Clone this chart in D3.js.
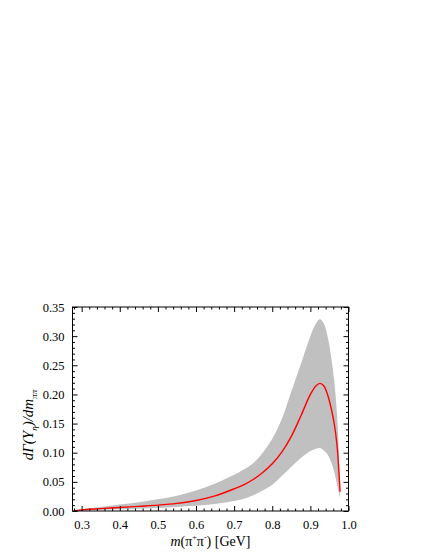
<!DOCTYPE html>
<html><head><meta charset="utf-8">
<script src="https://cdn.jsdelivr.net/npm/d3@7"></script>
<style>body{margin:0;background:#fff}svg{display:block}text{font-family:"Liberation Serif","Times New Roman",serif}</style>
</head><body><svg id="c" width="432" height="559"></svg>
<script>
const mass =    [0.279,0.30,0.35,0.40,0.45,0.50,0.55,0.60,0.65,0.70,0.725,0.75,0.775,0.80,0.825,0.85,0.875,0.90,0.915,0.925,0.935,0.945,0.955,0.963,0.970,0.975,0.978];
const central = [0,0.002,0.004,0.006,0.008,0.010,0.013,0.018,0.026,0.038,0.045,0.054,0.066,0.081,0.101,0.128,0.163,0.200,0.215,0.219,0.215,0.200,0.175,0.148,0.112,0.065,0.033];
const upper =   [0,0.003,0.007,0.011,0.015,0.020,0.026,0.035,0.047,0.062,0.071,0.082,0.100,0.124,0.158,0.205,0.252,0.300,0.322,0.329,0.322,0.300,0.262,0.220,0.165,0.095,0.022];
const lower =   [0,0.001,0.002,0.003,0.004,0.005,0.007,0.009,0.012,0.017,0.021,0.027,0.035,0.045,0.060,0.076,0.091,0.103,0.107,0.108,0.104,0.097,0.083,0.066,0.045,0.030,0.022];
const xTicks = [0.3,0.4,0.5,0.6,0.7,0.8,0.9,1.0];
const yTicks = [0,0.05,0.10,0.15,0.20,0.25,0.30,0.35];

const svg = d3.select("#c");
const L=72.5,R=348.5,T=307,B=511;
const x = d3.scaleLinear().domain([0.276,1.0]).range([L,R]);
const y = d3.scaleLinear().domain([0,0.35]).range([B,T]);
const data = mass.map((m,i)=>({m,c:central[i],u:upper[i],l:lower[i]}));
const curve = d3.curveCatmullRom.alpha(0.5);

svg.append("path").datum(data)
  .attr("d", d3.area().x(d=>x(d.m)).y0(d=>y(d.l)).y1(d=>y(d.u)).curve(curve))
  .attr("fill","#c0c0c0");
svg.append("path").datum(data)
  .attr("d", d3.line().x(d=>x(d.m)).y(d=>y(d.c)).curve(curve))
  .attr("fill","none").attr("stroke","#ff0000").attr("stroke-width",1.4);

svg.append("rect").attr("x",L).attr("y",T).attr("width",R-L).attr("height",B-T)
  .attr("fill","none").attr("stroke","#000").attr("stroke-width",1);

const xMinor = d3.range(0.28,1.0001,0.02).filter(v=>!xTicks.some(t=>Math.abs(t-v)<1e-6));
const yMinor = d3.range(0.01,0.35,0.01).filter(v=>!yTicks.some(t=>Math.abs(t-v)<1e-6));

const axBottom = d3.axisBottom(x).tickValues(xTicks).tickFormat(d3.format(".1f")).tickSizeInner(-5).tickSizeOuter(0).tickPadding(9);
const axBottomMinor = d3.axisBottom(x).tickValues(xMinor).tickFormat("").tickSizeInner(-2.5).tickSizeOuter(0);
const axTop = d3.axisTop(x).tickValues(xTicks).tickFormat("").tickSizeInner(-5).tickSizeOuter(0);
const axTopMinor = d3.axisTop(x).tickValues(xMinor).tickFormat("").tickSizeInner(-2.5).tickSizeOuter(0);
const axLeft = d3.axisLeft(y).tickValues(yTicks).tickFormat(d3.format(".2f")).tickSizeInner(-5).tickSizeOuter(0).tickPadding(8);
const axLeftMinor = d3.axisLeft(y).tickValues(yMinor).tickFormat("").tickSizeInner(-2.5).tickSizeOuter(0);
const axRight = d3.axisRight(y).tickValues(yTicks).tickFormat("").tickSizeInner(-5).tickSizeOuter(0);
const axRightMinor = d3.axisRight(y).tickValues(yMinor).tickFormat("").tickSizeInner(-2.5).tickSizeOuter(0);

function add(ax, tr){
  const g = svg.append("g").attr("transform",tr).call(ax);
  g.select(".domain").remove();
  g.selectAll("text").attr("font-size",12.5).attr("fill","#000").attr("font-family",'"Liberation Serif",serif');
  g.selectAll("line").attr("stroke","#000");
  return g;
}
add(axBottom,`translate(0,${B})`);
add(axBottomMinor,`translate(0,${B})`);
add(axTop,`translate(0,${T})`);
add(axTopMinor,`translate(0,${T})`);
add(axLeft,`translate(${L},0)`);
add(axLeftMinor,`translate(${L},0)`);
add(axRight,`translate(${R},0)`);
add(axRightMinor,`translate(${R},0)`);

const xl = svg.append("text").attr("x",(L+R)/2).attr("y",546).attr("text-anchor","middle").attr("font-size",14);
xl.append("tspan").attr("font-style","italic").text("m");
xl.append("tspan").text("(π");
xl.append("tspan").attr("font-size",8).attr("dy",-6).text("+");
xl.append("tspan").attr("dy",6).text("π");
xl.append("tspan").attr("font-size",8).attr("dy",-6).text("-");
xl.append("tspan").attr("dy",6).text(") [GeV]");

const yl = svg.append("text").attr("transform",`translate(33,425) rotate(-90)`).attr("text-anchor","middle").attr("font-size",15);
yl.append("tspan").attr("font-style","italic").text("dΓ(Y");
yl.append("tspan").attr("font-style","italic").attr("font-size",9).attr("dy",4).text("η");
yl.append("tspan").attr("font-style","italic").attr("dy",-4).text(")/dm");
yl.append("tspan").attr("font-style","italic").attr("font-size",9).attr("dy",4).text("ππ");
</script></body></html>
